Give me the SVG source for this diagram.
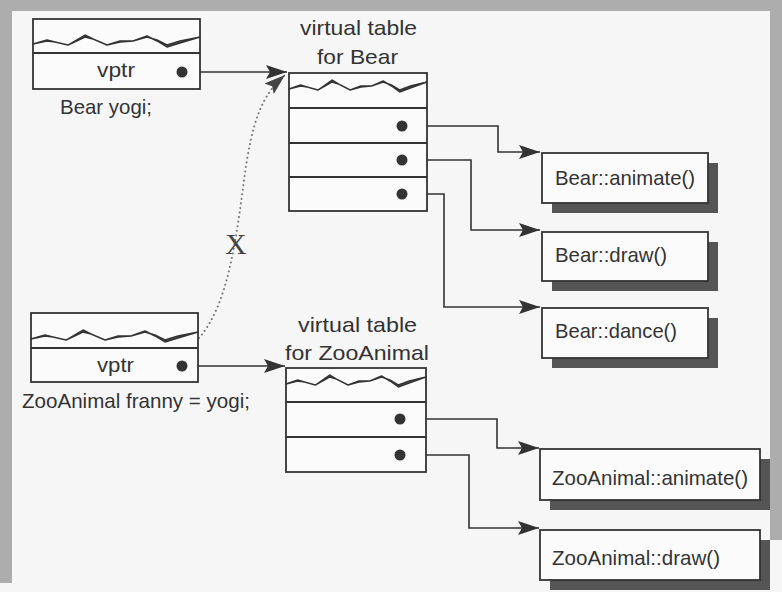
<svg xmlns="http://www.w3.org/2000/svg" width="782" height="592" viewBox="0 0 782 592">
<style>
.box{fill:#fbfbfb;stroke:#333;stroke-width:1.8}
.div{stroke:#333;stroke-width:1.8}
.shadow{fill:#555}
.t{font-family:"Liberation Sans",Arial,sans-serif;font-size:21px;fill:#333}
.conn{fill:none;stroke:#333;stroke-width:1.6}
.dot{fill:#333}
.wave{fill:#555;stroke:#333;stroke-width:1.4;stroke-linejoin:round}
</style>
<defs>
<marker id="arr" markerUnits="userSpaceOnUse" viewBox="0 0 21 14" refX="21" refY="7" markerWidth="21" markerHeight="14" orient="auto">
<path d="M0,0 L21,7 L0,14 L4,7 Z" fill="#333"/>
</marker>
<marker id="arrd" markerUnits="userSpaceOnUse" viewBox="0 0 21 14" refX="21" refY="7" markerWidth="21" markerHeight="14" orient="auto">
<path d="M0,0 L21,7 L0,14 L4,7 Z" fill="#444"/>
</marker>
<path id="wave" class="wave" d="M0,4 L14,1 L22,2 L35,5 L52,-3 L60,-1 L74,5 L87,1 L100,1 L114,-3 L124,0 L134,5 L147,1 L167,-3 L147,3 L134,7 L124,1 L114,-4 L100,1 L87,2 L74,5 L60,-1 L52,-5 L35,5 L22,2 L14,0 L0,4 Z"/>
</defs>

<!-- background -->
<rect x="0" y="0" width="782" height="592" fill="#f6f6f6"/>
<rect x="0" y="0" width="782" height="11" fill="#adadad"/>
<rect x="0" y="0" width="12" height="583" fill="#adadad"/>
<rect x="770" y="0" width="12" height="540" fill="#adadad"/>

<!-- connectors -->
<g id="connectors">
<path class="conn" d="M182,72 L287,72" marker-end="url(#arr)"/>
<path class="conn" d="M182,366 L285,366" marker-end="url(#arr)"/>
<path d="M199,338 C228,305 236,240 244,180 S262,95 285,75" fill="none" stroke="#777" stroke-width="2" stroke-linecap="round" stroke-dasharray="0.1 4.5" marker-end="url(#arrd)"/>
<path class="conn" d="M402,126 H498 V152 H540" marker-end="url(#arr)"/>
<path class="conn" d="M402,160 H471 V230 H540" marker-end="url(#arr)"/>
<path class="conn" d="M402,194 H444 V307 H540" marker-end="url(#arr)"/>
<path class="conn" d="M400,419 H497 V448 H539" marker-end="url(#arr)"/>
<path class="conn" d="M400,455 H469 V528 H539" marker-end="url(#arr)"/>
</g>
<text x="225" y="254" font-family="'Liberation Serif','Times New Roman',serif" font-size="30" fill="#444">X</text>

<!-- Bear yogi object -->
<g id="yogi">
<rect class="box" x="33" y="19" width="167" height="70"/>
<line class="div" x1="33" y1="53" x2="200" y2="53"/>
<use href="#wave" transform="translate(33,40)"/>
<text class="t" x="97" y="77" textLength="38" lengthAdjust="spacingAndGlyphs">vptr</text>
<circle class="dot" cx="182" cy="72" r="5.5"/>
<text class="t" x="60" y="114" textLength="92" lengthAdjust="spacingAndGlyphs">Bear yogi;</text>
</g>

<!-- ZooAnimal franny object -->
<g id="franny">
<rect class="box" x="31" y="313" width="167" height="69"/>
<line class="div" x1="31" y1="348" x2="198" y2="348"/>
<use href="#wave" transform="translate(31,335)"/>
<text class="t" x="97" y="372" textLength="37" lengthAdjust="spacingAndGlyphs">vptr</text>
<circle class="dot" cx="182" cy="366" r="5.5"/>
<text class="t" x="22" y="408" textLength="228" lengthAdjust="spacingAndGlyphs">ZooAnimal franny = yogi;</text>
</g>

<!-- Bear vtable -->
<g id="bear-vtbl">
<text class="t" x="300" y="35" textLength="117" lengthAdjust="spacingAndGlyphs">virtual table</text>
<text class="t" x="317" y="64" textLength="81" lengthAdjust="spacingAndGlyphs">for Bear</text>
<rect class="box" x="289" y="73" width="138" height="138"/>
<use href="#wave" transform="translate(289,85) scale(0.826,1)"/>
<line class="div" x1="289" y1="108" x2="427" y2="108"/>
<line class="div" x1="289" y1="143" x2="427" y2="143"/>
<line class="div" x1="289" y1="177" x2="427" y2="177"/>
<circle class="dot" cx="402" cy="126" r="5.5"/>
<circle class="dot" cx="402" cy="160" r="5.5"/>
<circle class="dot" cx="402" cy="194" r="5.5"/>
</g>

<!-- ZooAnimal vtable -->
<g id="zoo-vtbl">
<text class="t" x="298" y="332" textLength="119" lengthAdjust="spacingAndGlyphs">virtual table</text>
<text class="t" x="285" y="360" textLength="144" lengthAdjust="spacingAndGlyphs">for ZooAnimal</text>
<rect class="box" x="286" y="368" width="140" height="104"/>
<use href="#wave" transform="translate(286,380) scale(0.838,1)"/>
<line class="div" x1="286" y1="402" x2="426" y2="402"/>
<line class="div" x1="286" y1="437" x2="426" y2="437"/>
<circle class="dot" cx="400" cy="419" r="5.5"/>
<circle class="dot" cx="400" cy="455" r="5.5"/>
</g>

<!-- function boxes -->
<g id="bear-animate">
<rect class="shadow" x="552" y="163" width="166" height="50"/>
<rect class="box" x="542" y="153" width="166" height="50"/>
<text class="t" x="555" y="185" textLength="140" lengthAdjust="spacingAndGlyphs">Bear::animate()</text>
</g>
<g id="bear-draw">
<rect class="shadow" x="552" y="242" width="166" height="49"/>
<rect class="box" x="542" y="232" width="166" height="49"/>
<text class="t" x="555" y="262" textLength="112" lengthAdjust="spacingAndGlyphs">Bear::draw()</text>
</g>
<g id="bear-dance">
<rect class="shadow" x="552" y="318" width="166" height="50"/>
<rect class="box" x="542" y="308" width="166" height="50"/>
<text class="t" x="555" y="338" textLength="122" lengthAdjust="spacingAndGlyphs">Bear::dance()</text>
</g>
<g id="zoo-animate">
<rect class="shadow" x="550" y="459" width="220" height="51"/>
<rect class="box" x="540" y="449" width="220" height="51"/>
<text class="t" x="552" y="485" textLength="196" lengthAdjust="spacingAndGlyphs">ZooAnimal::animate()</text>
</g>
<g id="zoo-draw">
<rect class="shadow" x="550" y="540" width="220" height="50"/>
<rect class="box" x="540" y="530" width="220" height="50"/>
<text class="t" x="552" y="565" textLength="168" lengthAdjust="spacingAndGlyphs">ZooAnimal::draw()</text>
</g>
</svg>
